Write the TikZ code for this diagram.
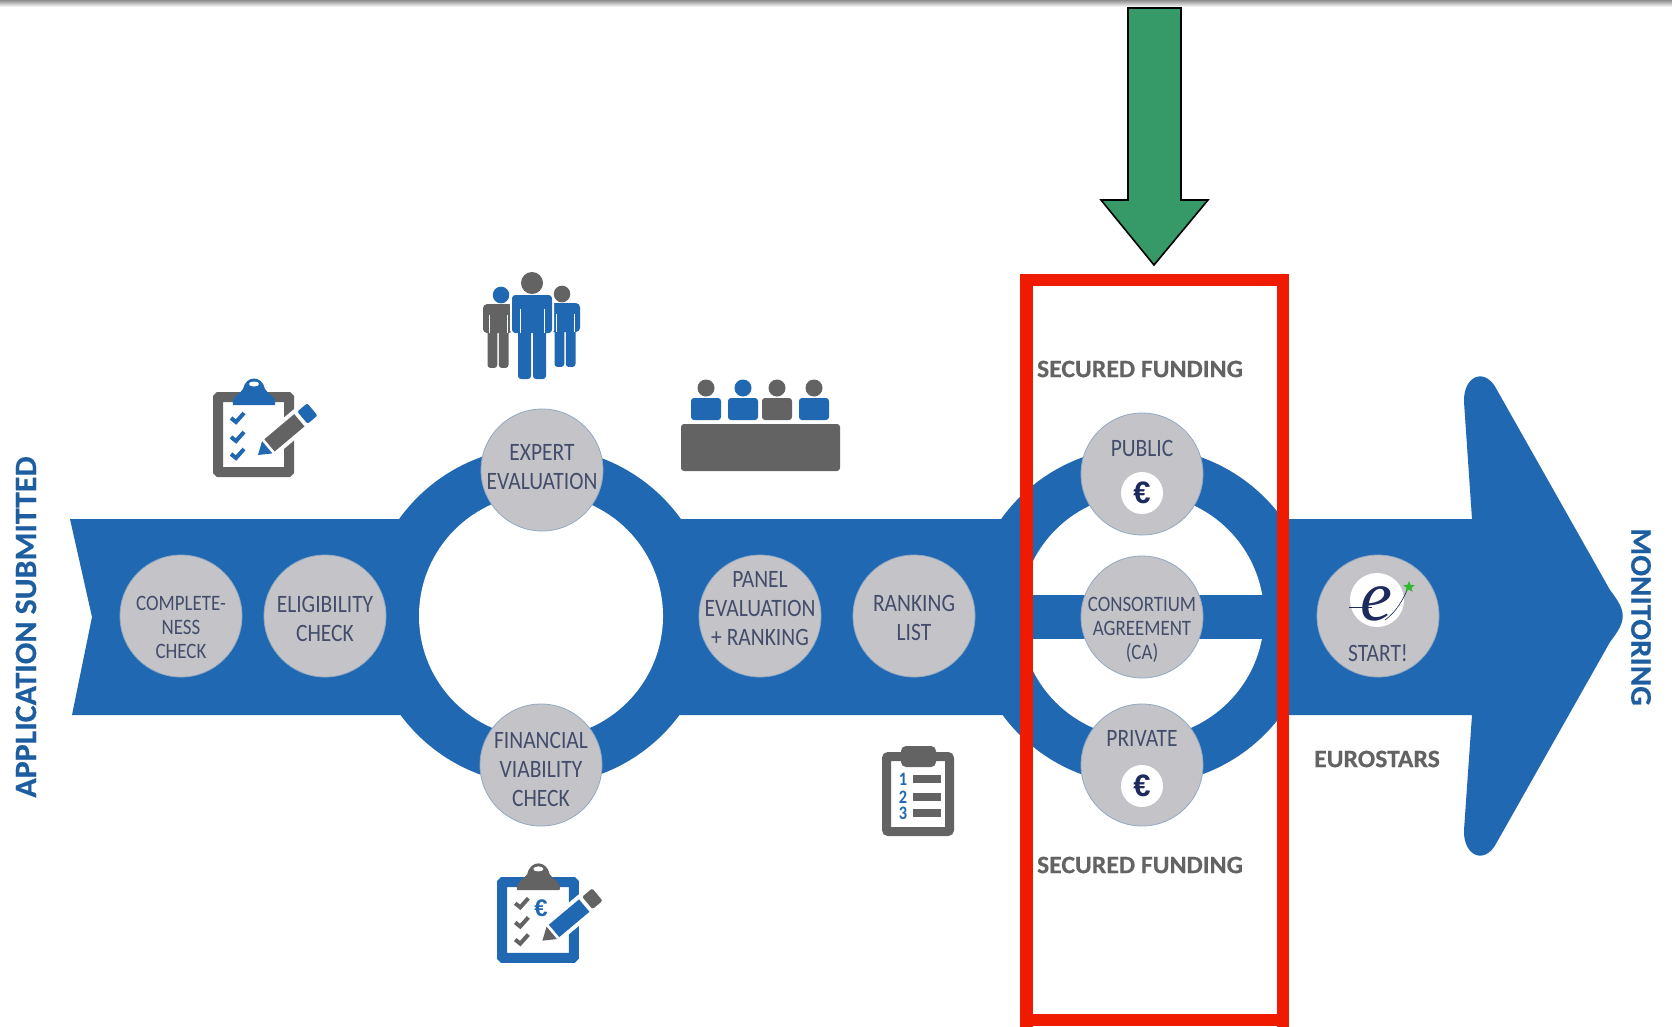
\documentclass[tikz,border=0pt]{standalone}
\usepackage{fontspec}
\usetikzlibrary{shapes.geometric}
\newfontfamily\din[FakeStretch=0.86]{Carlito}
\newfontfamily\dinb[FakeStretch=1.03,BoldFeatures={FakeBold=0.4}]{Carlito}
\newfontfamily\eserif{Liberation Serif}
\newfontfamily\eurof{Liberation Sans}
\definecolor{bandblue}{HTML}{2068B2}
\definecolor{icongray}{HTML}{636363}
\definecolor{circgray}{HTML}{C4C4C8}
\definecolor{labink}{HTML}{434D6B}
\definecolor{redbox}{HTML}{F01A00}
\definecolor{greenar}{HTML}{369A68}
\definecolor{navy}{HTML}{1D2A5E}
\tikzset{
  stepcirc/.style={circle,fill=circgray,draw=circgray!70!bandblue,line width=.8pt,minimum size=122pt,inner sep=0pt},
  steptxt/.style={align=center,inner sep=0pt,text=labink,font=\din\fontsize{25}{29}\selectfont},
  smalltxt/.style={align=center,inner sep=0pt,text=labink,font=\din\fontsize{22}{24}\selectfont},
  headtxt/.style={font=\dinb\bfseries\fontsize{25}{28}\selectfont,text=icongray,inner sep=0pt},
  sidetxt/.style={font=\dinb\bfseries\fontsize{31}{32}\selectfont,text=bandblue!90!black,inner sep=0pt},
  innerlab/.style={font=\din\fontsize{25}{28}\selectfont,text=labink,inner sep=0pt},
  eurobadge/.style={circle,fill=white,minimum size=42pt,inner sep=0pt,text=navy,font=\eurof\bfseries\fontsize{31}{31}\selectfont},
}
% clipboard icon; local frame 81x85
\newcommand{\clipicon}[8]{%
\begin{scope}[shift={(#1,#2)},xscale=#3,yscale=#4]
  \draw[#5,line width=10pt,rounded corners=1pt,fill=white] (5,5) rectangle (76,80);
  \begin{scope}[shift={(45,63)},rotate=40]
    \fill[white] (8,-12) rectangle (90,12);
    \fill[#7] (15,-8) rectangle (54,8);
    \fill[#8,rounded corners=2pt] (58,-8) rectangle (71,8);
    \fill[#8] (0,0) -- (12,-8) -- (12,8) -- cycle;
  \end{scope}
  \fill[#6] (20,13) .. controls (18,4) and (27,3) .. (30,-3) .. controls (33,-17) and (49,-17) .. (52,-3) .. controls (55,3) and (64,4) .. (62,13) -- cycle;
  \fill[white] (41,-8) ellipse (5 and 2.5);
  \foreach \cy in {26,45,62}{
    \draw[#6,line width=4pt] (18,\cy) -- (23,\cy+4) -- (31,\cy-5);
  }
\end{scope}}
% person; origin at head centre
\newcommand{\person}[7]{%
\begin{scope}[shift={(#1,#2)},xscale=#3,yscale=#4]
  \fill[#6,rounded corners=3pt] (-14+#7,44) rectangle (-1+#7,96);
  \fill[#6,rounded corners=3pt] (1+#7,44) rectangle (14+#7,96);
  \fill[#6,rounded corners=4pt] (-20+#7,12) rectangle (20+#7,50);
  \draw[white,line width=.8pt] (-12+#7,26) -- (-12+#7,50) (12+#7,26) -- (12+#7,50);
  \fill[#5] (0,0) circle (11);
\end{scope}}
\newcommand{\seated}[3]{%
  \fill[#2] (#1,388) circle (8.5);
  \fill[#3,rounded corners=3pt] (#1-15,398) rectangle (#1+15,420);
}
\begin{document}
\begin{tikzpicture}[x=1pt,y=-1pt]
\useasboundingbox (0,0) rectangle (1672,1026);
\fill[white] (0,0) rectangle (1672,1026);
\shade[top color=black!45,bottom color=white] (0,0) rectangle (1672,7);

% big arrow band
\fill[bandblue] (70,519) -- (1472,519) -- (1464,402) .. controls (1463,376) and (1485,366) .. (1497,390)
  -- (1610,590) .. controls (1627,612) and (1627,620) .. (1610,642) -- (1497,842)
  .. controls (1485,866) and (1463,856) .. (1464,830) -- (1472,715) -- (72,715) -- (92,617) -- cycle;
% rings
\fill[bandblue] (540,616) ellipse (172 and 169);
\fill[white] (541,616) circle (122);
\fill[bandblue] (1142,616) ellipse (172 and 169);
\fill[white] (1142,616) circle (122);
\begin{scope}
  \clip (1142,616) circle (123);
  \fill[bandblue] (1010,595) rectangle (1275,639);
\end{scope}

% step circles
\node[stepcirc] (complete) at (181,616) {};
\node[stepcirc] (eligible) at (325,616) {};
\node[stepcirc] (expert) at (542,470) {};
\node[stepcirc] (financial) at (541,765) {};
\node[stepcirc] (panel) at (760,616) {};
\node[stepcirc] (ranking) at (914,616) {};
\node[stepcirc] (public) at (1142,474) {};
\node[stepcirc] (consort) at (1142,617) {};
\node[stepcirc] (private) at (1142,765) {};
\node[stepcirc] (start) at (1378,616) {};
\node[smalltxt] (completet) at ([yshift=-11.5pt]complete) {COMPLETE-\\NESS\\CHECK};
\node[steptxt] (eligiblet) at ([yshift=-3pt]eligible) {ELIGIBILITY\\CHECK};
\node[steptxt] (expertt) at ([yshift=3pt]expert) {EXPERT\\EVALUATION};
\node[steptxt] (financialt) at ([yshift=-4pt]financial) {FINANCIAL\\VIABILITY\\CHECK};
\node[steptxt] (panelt) at ([yshift=7pt]panel) {PANEL\\EVALUATION\\+ RANKING};
\node[steptxt] (rankingt) at ([yshift=-2pt]ranking) {RANKING\\LIST};
\node[smalltxt] (consortt) at ([yshift=-13pt]consort) {CONSORTIUM\\AGREEMENT\\(CA)};
\node[innerlab] (publab) at (1142,448) {PUBLIC};
\node[innerlab] (privlab) at (1142,738) {PRIVATE};
\node[eurobadge] (pubeuro) at (1142,493) {€};
\node[eurobadge] (priveuro) at (1142,786) {€};
\node[innerlab] (startlab) at (1378,653) {START!};

% e logo
\node[circle,fill=white,minimum size=54pt,inner sep=0pt] (ecirc) at (1377,600) {};
\draw[navy,line width=.5pt] (1349,607) -- (1372,607);
\node[text=navy,inner sep=0pt,font=\eserif\itshape\fontsize{72}{72}\selectfont] (elogo) at (1376,604) {e};
\draw[navy,line width=.6pt] (1385,620) .. controls (1396,612) and (1403,600) .. (1408,588);
\node[star,star points=5,star point ratio=2.2,fill=green!65!black!80!white,minimum size=12pt,inner sep=0pt] (estar) at (1409,587) {};

% headings
\node[headtxt] (sec1) at (1140,369) {SECURED FUNDING};
\node[headtxt] (sec2) at (1140,865) {SECURED FUNDING};
\node[headtxt] (euro) at (1377,759) {EUROSTARS};
\node[sidetxt,rotate=90] (appl) at (26,627) {APPLICATION SUBMITTED};
\node[sidetxt,rotate=-90,font=\dinb\bfseries\fontsize{30}{32}\selectfont] (moni) at (1641,617) {MONITORING};

% icons
\clipicon{213}{392}{1}{1}{icongray}{bandblue}{icongray}{bandblue}
\clipicon{497}{877}{1.01}{1.01}{bandblue}{icongray}{bandblue}{icongray}
\node[text=bandblue,inner sep=0pt,font=\eurof\bfseries\fontsize{24}{24}\selectfont] (ceuro) at (541,908) {€};

\person{501}{295}{.75}{.76}{bandblue}{icongray}{-4}
\person{562}{294}{.75}{.76}{icongray}{bandblue}{4}
\draw[white,line width=2pt,fill=bandblue,rounded corners=4pt] (511,294) rectangle (553,334);
\person{532}{283}{1}{1}{icongray}{bandblue}{0}

\fill[icongray,rounded corners=3pt] (681,424) rectangle (840,471);
\seated{706}{icongray}{bandblue}
\seated{743}{bandblue}{bandblue}
\seated{777}{icongray}{icongray}
\seated{814}{icongray}{bandblue}

\draw[icongray,line width=9pt,rounded corners=2pt,fill=white] (886.5,756.5) rectangle (949.5,831.5);
\fill[icongray,rounded corners=5pt] (901,746) rectangle (936,767);
\foreach \ny/\nt in {779/1,797/2,813/3}{
  \node[text=bandblue,inner sep=0pt,font=\din\bfseries\fontsize{19}{19}\selectfont] at (903,\ny) {\nt};
  \fill[icongray] (913,\ny-4) rectangle (941,\ny+4);
}

% red frame
\draw[redbox,line width=12.5pt] (1026.5,1040) -- (1026.5,280) -- (1283,280) -- (1283,1040);
\draw[redbox,line width=12.5pt] (1026.5,1020) -- (1283,1020);

% green arrow
\draw[black,line width=1.6pt,fill=greenar,line join=miter] (1128,8) -- (1181,8) -- (1181,200) -- (1208,200) -- (1154,265) -- (1101,200) -- (1128,200) -- cycle;
\end{tikzpicture}
\end{document}
